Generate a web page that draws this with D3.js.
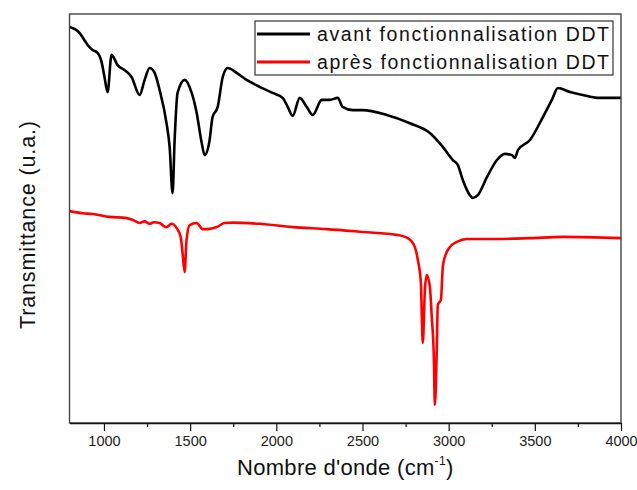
<!DOCTYPE html>
<html>
<head>
<meta charset="utf-8">
<script src="https://cdn.jsdelivr.net/npm/d3@7"></script>
<style>
  body { margin: 0; background: #fff; }
  svg { display: block; font-family: "Liberation Sans", Arial, sans-serif; }
</style>
</head>
<body>
<svg id="chart" width="637" height="490"></svg>
<script>
// FTIR spectra: wavenumber (cm-1) and transmittance (arbitrary units)
const wavenumberAvant = [800, 858, 887, 905, 934, 963, 986, 1003, 1021, 1044, 1079, 1119, 1160, 1207, 1236, 1265, 1294, 1323, 1363, 1381, 1398, 1410, 1427, 1468, 1509, 1538, 1567, 1584, 1613, 1630, 1660, 1689, 1718, 1770, 1828, 1903, 1979, 2037, 2066, 2095, 2136, 2176, 2211, 2264, 2310, 2356, 2385, 2444, 2502, 2641, 2775, 2891, 2966, 3024, 3053, 3082, 3123, 3140, 3169, 3222, 3280, 3326, 3367, 3384, 3402, 3472, 3547, 3599, 3634, 3704, 3779, 3861, 4000];
const transAvant = [96.8, 95.4, 93.6, 92.4, 91.2, 90.5, 88.3, 84.6, 80.9, 90.0, 87.5, 86.3, 84.6, 80.2, 83.9, 86.8, 85.6, 81.4, 73.3, 67.5, 56.2, 69.2, 80.7, 83.9, 80.7, 75.8, 68.5, 65.5, 69.2, 74.8, 77.3, 84.6, 86.8, 85.6, 83.9, 82.2, 80.7, 79.5, 77.3, 75.1, 79.5, 77.3, 75.3, 79.0, 79.0, 79.5, 77.3, 76.5, 76.5, 75.3, 73.3, 70.9, 67.5, 64.3, 63.1, 59.4, 55.7, 55.0, 55.7, 60.1, 64.3, 65.8, 65.5, 64.8, 66.7, 69.2, 74.8, 79.0, 81.9, 80.9, 80.2, 79.5, 79.5];

const wavenumberApres = [800, 875, 934, 1032, 1131, 1170, 1207, 1235, 1265, 1290, 1323, 1345, 1363, 1392, 1421, 1445, 1456, 1468, 1479, 1497, 1538, 1572, 1601, 1654, 1700, 1747, 1903, 2095, 2293, 2502, 2699, 2763, 2804, 2821, 2839, 2844, 2850, 2862, 2873, 2891, 2902, 2914, 2920, 2931, 2937, 2955, 2966, 2978, 3007, 3048, 3106, 3280, 3472, 3663, 4000];
const transApres = [51.8, 51.3, 51.1, 50.4, 50.1, 49.6, 48.9, 49.3, 48.7, 49.1, 48.9, 48.2, 47.9, 48.7, 47.7, 45.5, 41.6, 36.9, 44.7, 48.4, 48.9, 47.4, 47.4, 47.9, 48.9, 49.0, 48.7, 47.9, 47.4, 46.7, 46.0, 45.2, 43.0, 39.9, 34.2, 26.4, 19.6, 32.5, 36.2, 33.3, 25.9, 16.1, 4.4, 17.8, 28.9, 30.1, 38.1, 40.6, 43.0, 44.3, 45.0, 45.0, 45.2, 45.5, 45.2];

const seriesNames = ["avant fonctionnalisation DDT", "après fonctionnalisation DDT"];
const seriesColors = ["#000000", "#ff0000"];
const majorTicks = [1000, 1500, 2000, 2500, 3000, 3500, 4000];
const minorTicks = [1250, 1750, 2250, 2750, 3250, 3750];
const xTitle = "Nombre d'onde (cm";
const yTitle = "Transmittance (u.a.)";

const svg = d3.select("#chart");
const plot = { left: 69.5, right: 621, top: 14, bottom: 423 };

const x = d3.scaleLinear().domain([800, 4000]).range([plot.left, plot.right]);
const y = d3.scaleLinear().domain([0, 100]).range([plot.bottom, plot.top]);

const series = [
  { name: seriesNames[0], color: seriesColors[0], pts: d3.zip(wavenumberAvant, transAvant) },
  { name: seriesNames[1], color: seriesColors[1], pts: d3.zip(wavenumberApres, transApres) }
];

const line = d3.line()
  .x(d => x(d[0]))
  .y(d => y(d[1]))
  .curve(d3.curveMonotoneX);

// spectra
svg.append("g")
  .selectAll("path")
  .data(series)
  .join("path")
  .attr("d", d => line(d.pts))
  .attr("fill", "none")
  .attr("stroke", d => d.color)
  .attr("stroke-width", 2.6)
  .attr("stroke-linejoin", "round");

// frame
svg.append("rect")
  .attr("x", plot.left).attr("y", plot.top)
  .attr("width", plot.right - plot.left).attr("height", plot.bottom - plot.top)
  .attr("fill", "none").attr("stroke", "#444").attr("stroke-width", 1.4);

// bottom axis: major ticks with labels, minor ticks without
const gx = svg.append("g").attr("transform", `translate(0,${plot.bottom})`)
  .call(d3.axisBottom(x).tickValues(majorTicks).tickSize(8).tickSizeOuter(0).tickFormat(d3.format("d")).tickPadding(5));
gx.select(".domain").attr("stroke", "#111").attr("stroke-width", 1.4);
gx.selectAll(".tick line").attr("stroke", "#111").attr("stroke-width", 1.2);
gx.selectAll(".tick text")
  .attr("font-size", 14.5)
  .attr("fill", "#222")
  .attr("font-family", "Liberation Sans, Arial, sans-serif");

const gxm = svg.append("g").attr("transform", `translate(0,${plot.bottom})`)
  .call(d3.axisBottom(x).tickValues(minorTicks).tickSize(4).tickFormat(""));
gxm.select(".domain").remove();
gxm.selectAll(".tick line").attr("stroke", "#111").attr("stroke-width", 1.2);

// axis titles
const xt = svg.append("text")
  .attr("x", 237).attr("y", 475)
  .attr("font-size", 22).attr("fill", "#111")
  .attr("letter-spacing", 0.3);
xt.append("tspan").text(xTitle);
xt.append("tspan").attr("font-size", 12).attr("dy", -10).text("-1");
xt.append("tspan").attr("dy", 10).text(")");

svg.append("text")
  .attr("transform", "translate(35,225) rotate(-90)")
  .attr("text-anchor", "middle")
  .attr("font-size", 21.5).attr("fill", "#111")
  .attr("textLength", 208).attr("lengthAdjust", "spacing")
  .text(yTitle);

// legend
const legend = svg.append("g");
legend.append("rect")
  .attr("x", 255).attr("y", 21).attr("width", 358).attr("height", 54)
  .attr("fill", "#fff").attr("stroke", "#333").attr("stroke-width", 1.2);
const rows = legend.selectAll("g.row").data(series).join("g")
  .attr("class", "row")
  .attr("transform", (d, i) => `translate(0,${34 + i * 28})`);
rows.append("line")
  .attr("x1", 257).attr("x2", 310)
  .attr("stroke", d => d.color).attr("stroke-width", 3);
rows.append("text")
  .attr("x", 317).attr("y", 7)
  .attr("font-size", 19.5).attr("fill", "#111")
  .attr("textLength", 292).attr("lengthAdjust", "spacing")
  .text(d => d.name);
</script>
</body>
</html>
